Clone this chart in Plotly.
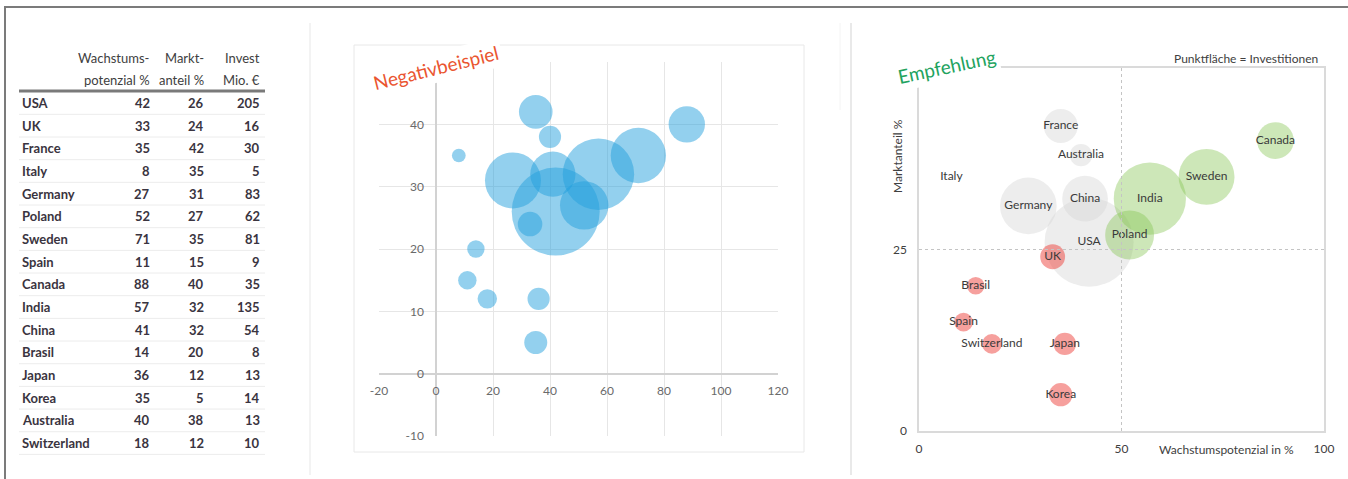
import plotly.graph_objects as go

W, H = 1348, 479

# ---- data -------------------------------------------------------------
countries = ["USA", "UK", "France", "Italy", "Germany", "Poland", "Sweden", "Spain",
             "Canada", "India", "China", "Brasil", "Japan", "Korea", "Australia", "Switzerland"]
growth = [42, 33, 35, 8, 27, 52, 71, 11, 88, 57, 41, 14, 36, 35, 40, 18]    # Wachstumspotenzial %
share = [26, 24, 42, 35, 31, 27, 35, 15, 40, 32, 32, 20, 12, 5, 38, 12]     # Marktanteil %
invest = [205, 16, 30, 5, 83, 62, 81, 9, 35, 135, 54, 8, 13, 14, 13, 10]    # Invest Mio. €

header_top = ["Wachstums-", "Markt-", "Invest"]
header_bottom = ["potenzial %", "anteil %", "Mio. €"]

mid_xticks = [-20, 0, 20, 40, 60, 80, 100, 120]
mid_xlabels = ["-20", "0", "20", "40", "60", "80", "100", "120"]
mid_yticks = [-10, 0, 10, 20, 30, 40, 50]
mid_ylabels = ["-10", "0", "10", "20", "30", "40", ""]
right_xticks = [0, 50, 100]
right_yticks = [0, 25]

GROWTH_LIMIT = 50
SHARE_LIMIT = 25

FONT = "Lato"


def px_x(p):
    return p / W


def px_y(p):
    return 1 - p / H


fig = go.Figure()

# ---- middle: plain bubble chart ---------------------------------------
fig.add_trace(go.Scatter(
    x=growth, y=share, mode="markers",
    marker=dict(size=invest, sizemode="area", sizeref=2 * max(invest) / 88 ** 2,
                color="rgba(34,160,220,0.7)", line=dict(width=0)),
    xaxis="x", yaxis="y", hoverinfo="skip", showlegend=False,
))

# ---- right: classified bubble chart -----------------------------------
HIDDEN = ("Italy",)
groups = {
    "gray": ("rgba(214,214,214,0.62)", []),
    "red": ("rgba(238,72,66,0.74)", []),
    "green": ("rgba(132,196,82,0.58)", []),
}
for i, c in enumerate(countries):
    if growth[i] >= GROWTH_LIMIT:
        groups["green"][1].append(i)
    elif share[i] > SHARE_LIMIT:
        groups["gray"][1].append(i)
    else:
        groups["red"][1].append(i)

sref_right = 2 * max(invest) / 89 ** 2
for key in ("gray", "red", "green"):
    col, idx = groups[key]
    fig.add_trace(go.Scatter(
        x=[growth[i] for i in idx], y=[share[i] for i in idx], mode="markers",
        marker=dict(size=[invest[i] for i in idx], sizemode="area", sizeref=sref_right,
                    color=["rgba(255,255,255,0)" if countries[i] in HIDDEN else col for i in idx],
                    line=dict(width=0)),
        xaxis="x2", yaxis="y2", hoverinfo="skip", showlegend=False,
    ))

fig.add_trace(go.Scatter(
    x=growth, y=share, mode="text", text=countries, textposition="middle center",
    textfont=dict(family=FONT, size=12, color="#3a3a3a"),
    xaxis="x2", yaxis="y2", hoverinfo="skip", showlegend=False,
))

# ---- left: table (text drawn on a hidden pixel/row axis pair) ---------
row_px0, row_step = 103.0, 22.67
y3_range = [(H - row_px0) / row_step, (0 - row_px0) / row_step]

ann = []
col_right = [152, 206, 262]
name_x = 20
table_font = dict(family=FONT, size=13, color="#3a3440", weight="bold")
head_font = dict(family=FONT, size=13, color="#404040")

for j in range(3):
    ann.append(dict(x=col_right[j], y=-2, xref="x3", yref="y3", text=header_top[j],
                    showarrow=False, xanchor="right", yanchor="middle", font=head_font))
    ann.append(dict(x=col_right[j], y=-1, xref="x3", yref="y3", text=header_bottom[j],
                    showarrow=False, xanchor="right", yanchor="middle", font=head_font))

for r, c in enumerate(countries):
    ann.append(dict(x=name_x, y=r, xref="x3", yref="y3", text=c, showarrow=False,
                    xanchor="left", yanchor="middle", font=table_font))
    for j, v in enumerate((growth[r], share[r], invest[r])):
        ann.append(dict(x=col_right[j], y=r, xref="x3", yref="y3", text=str(v),
                        showarrow=False, xanchor="right", yanchor="middle", font=table_font))

shapes = []
shapes.append(dict(type="line", xref="x3", yref="y3", x0=19, x1=265, y0=-0.53, y1=-0.53,
                   line=dict(color="#7a7a7a", width=3)))
for r in range(len(countries)):
    shapes.append(dict(type="line", xref="x3", yref="y3", x0=19, x1=265, y0=r + 0.5, y1=r + 0.5,
                       line=dict(color="#ececec", width=1)))

# ---- frame, separators, chart boxes -----------------------------------
shapes += [
    dict(type="line", xref="paper", yref="paper", x0=px_x(4), x1=1, y0=px_y(7), y1=px_y(7),
         line=dict(color="#7b7b7b", width=2)),
    dict(type="line", xref="paper", yref="paper", x0=px_x(5), x1=px_x(5), y0=px_y(6), y1=0,
         line=dict(color="#7b7b7b", width=2)),
    dict(type="line", xref="paper", yref="paper", x0=px_x(310), x1=px_x(310), y0=px_y(23), y1=px_y(475),
         line=dict(color="#efefef", width=1.5)),
    dict(type="line", xref="paper", yref="paper", x0=px_x(851), x1=px_x(851), y0=px_y(23), y1=px_y(475),
         line=dict(color="#e2e2e2", width=1.5)),
    dict(type="line", xref="paper", yref="paper", x0=px_x(840), x1=px_x(840), y0=px_y(23), y1=px_y(110),
         line=dict(color="#f4f4f4", width=1)),
    dict(type="rect", xref="paper", yref="paper", x0=px_x(354), x1=px_x(804), y0=px_y(45), y1=px_y(452),
         line=dict(color="#e8e8e8", width=1), layer="below"),
    # quadrant guides
    dict(type="line", xref="x2", yref="y2", x0=GROWTH_LIMIT, x1=GROWTH_LIMIT, y0=0, y1=50,
         line=dict(color="#c4c4c4", width=1, dash="3px,3px")),
    dict(type="line", xref="x2", yref="y2", x0=0, x1=100, y0=SHARE_LIMIT, y1=SHARE_LIMIT,
         line=dict(color="#c4c4c4", width=1, dash="3px,3px")),
]

# ---- titles and labels -------------------------------------------------
label_font = dict(family=FONT, size=12, color="#404040")
ann += [
    dict(x=px_x(436), y=px_y(68), xref="paper", yref="paper", text="Negativbeispiel",
         showarrow=False, textangle=-14, bgcolor="white", borderpad=3,
         xanchor="center", yanchor="middle",
         font=dict(family=FONT, size=19, color="#ea5530")),
    dict(x=px_x(946), y=px_y(66), xref="paper", yref="paper", text="Empfehlung",
         showarrow=False, textangle=-12, bgcolor="white", borderpad=3,
         xanchor="center", yanchor="middle",
         font=dict(family=FONT, size=19, color="#22a35e")),
    dict(x=px_x(1246), y=px_y(58), xref="paper", yref="paper", text="Punktfläche = Investitionen",
         showarrow=False, xanchor="center", yanchor="middle", font=label_font),
    dict(x=px_x(1226), y=px_y(449), xref="paper", yref="paper", text="Wachstumspotenzial in %",
         showarrow=False, xanchor="center", yanchor="middle", font=label_font),
    dict(x=px_x(897), y=px_y(156), xref="paper", yref="paper", text="Marktanteil %",
         showarrow=False, textangle=-90, xanchor="center", yanchor="middle", font=label_font),
]

mid_axis_font = dict(family=FONT, size=12, color="#6a6a6a")
right_axis_font = dict(family=FONT, size=12, color="#404040")

fig.update_layout(
    template="none",
    width=W, height=H, margin=dict(l=0, r=0, t=0, b=0, pad=0, autoexpand=False),
    paper_bgcolor="white", plot_bgcolor="rgba(0,0,0,0)",
    showlegend=False,
    xaxis=dict(domain=[px_x(379), px_x(778)], range=[-20, 120], tickvals=mid_xticks,
               ticktext=mid_xlabels,
               showgrid=True, gridcolor="#e6e6e6", gridwidth=1,
               zeroline=True, zerolinecolor="#d2d2d2", zerolinewidth=1.5,
               showline=False, ticks="", anchor="free", position=px_y(373),
               tickfont=mid_axis_font, ticklabelstandoff=9, automargin=False, fixedrange=True),
    yaxis=dict(domain=[px_y(436), px_y(62)], range=[-10, 50], tickvals=mid_yticks,
               ticktext=mid_ylabels,
               showgrid=True, gridcolor="#e6e6e6", gridwidth=1,
               zeroline=True, zerolinecolor="#d2d2d2", zerolinewidth=1.5,
               showline=False, ticks="", anchor="free", position=px_x(436),
               tickfont=mid_axis_font, ticklabelstandoff=12, automargin=False, fixedrange=True),
    xaxis2=dict(domain=[px_x(919), px_x(1324)], range=[0, 100], tickvals=right_xticks,
                showgrid=False, zeroline=False, showline=True, mirror=True,
                linecolor="#dadada", linewidth=1.5, ticks="", anchor="y2",
                tickfont=right_axis_font, ticklabelstandoff=6, automargin=False, fixedrange=True),
    yaxis2=dict(domain=[px_y(431), px_y(68)], range=[0, 50], tickvals=right_yticks,
                showgrid=False, zeroline=False, showline=True, mirror=True,
                linecolor="#dadada", linewidth=1.5, ticks="", anchor="x2",
                tickfont=right_axis_font, ticklabelstandoff=8, automargin=False, fixedrange=True),
    xaxis3=dict(domain=[0, px_x(310)], range=[0, 310], visible=False, anchor="y3",
                automargin=False, fixedrange=True),
    yaxis3=dict(domain=[0, 1], range=y3_range, visible=False, anchor="x3",
                automargin=False, fixedrange=True),
    annotations=ann,
    shapes=shapes,
)

# page without default body margin so the figure sits flush in the window
fig.write_html("out.html",
               post_script="document.body.style.margin='0';document.body.style.overflow='hidden';")
